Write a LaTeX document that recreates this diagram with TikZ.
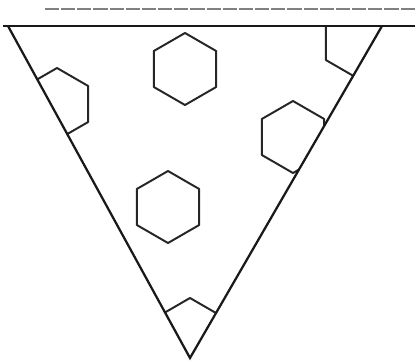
\documentclass[tikz,border=0pt]{standalone}
\usepackage{tikz}
\usetikzlibrary{calc}
\tikzset{
  edgeline/.style={line width=3.2pt,black!90,line join=miter},
  hexline/.style={line width=2.8pt,black!85,line join=round},
}
% pointy hexagon round a centre, radius in px
\newcommand{\hexcell}[2]{%
  \draw[hexline] (#1) +(90:#2) -- +(150:#2) -- +(210:#2) -- +(270:#2)
    -- +(330:#2) -- +(30:#2) -- cycle;}

\begin{document}
\begin{tikzpicture}[x=0.05cm,y=-0.05cm]
  \useasboundingbox (0,0) rectangle (420,362);
  \coordinate (tl) at (8,26);
  \coordinate (tr) at (382,26);
  \coordinate (bot) at (190,358);
  \coordinate (hxA) at (185,69);
  \coordinate (hxB) at (168,207);
  \coordinate (hxC) at (293,137);
  \coordinate (hxD) at (57,104);
  \coordinate (hxE) at (357,42);
  \coordinate (hxF) at (190,334);
  % cells, cut by the triangle
  \begin{scope}
    \clip (tl) -- (tr) -- (bot) -- cycle;
    \hexcell{hxA}{36}
    \hexcell{hxB}{36}
    \hexcell{hxC}{36}
    \hexcell{hxD}{36}
    \hexcell{hxE}{36}
    \hexcell{hxF}{36}
  \end{scope}
  % frame
  \draw[black!50,line width=1.6pt,dash pattern=on 20pt off 3pt] (45,9) -- (415,9);
  \draw[edgeline] (3,26) -- (415,26);
  \draw[edgeline] (tl) -- (bot) -- (tr);
\end{tikzpicture}
\end{document}
